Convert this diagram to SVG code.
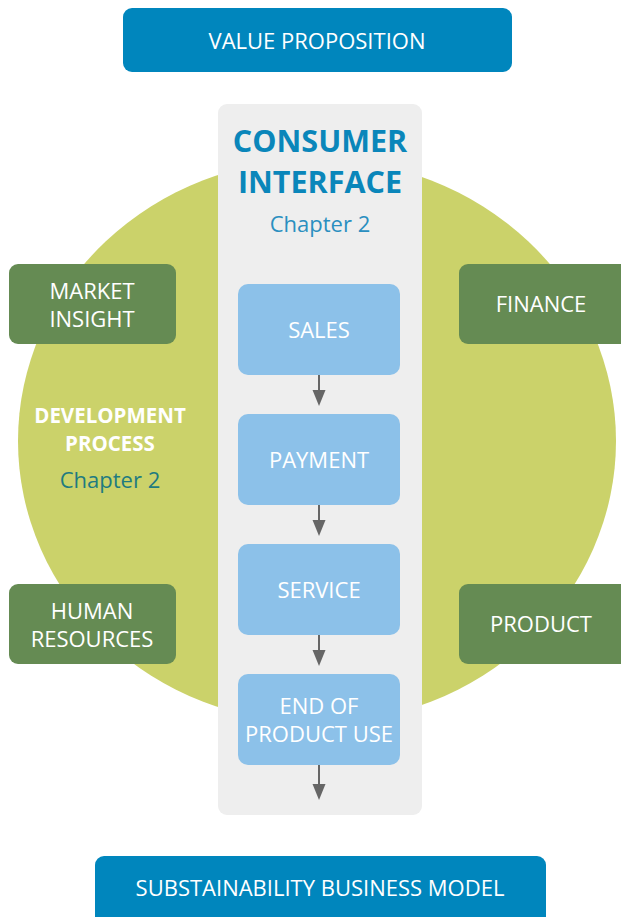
<svg xmlns="http://www.w3.org/2000/svg" width="621" height="917" viewBox="0 0 621 917">
<style>
text{font-family:"Open Sans","Noto Sans","Liberation Sans",sans-serif;text-anchor:middle}
.wt{fill:#ffffff;font-size:22px}
.blue{fill:#0086bd}
.green{fill:#658b53}
.lb{fill:#8cc1e9}
.conn{stroke:#666666;stroke-width:2;fill:none}
</style>
<ellipse cx="317" cy="441" rx="299" ry="282" fill="#cbd26a"/>
<g id="value-proposition">
<rect class="blue" x="123" y="8" width="389" height="64" rx="9"/>
<text class="wt" x="317" y="49">VALUE PROPOSITION</text>
</g>
<g id="consumer-interface">
<rect x="218" y="104" width="204" height="711" rx="9" fill="#eeeeee"/>
<text x="320" y="152" font-size="30.5" font-weight="bold" fill="#0a86ba">CONSUMER</text>
<text x="320" y="193" font-size="30.5" font-weight="bold" fill="#0a86ba">INTERFACE</text>
<text x="320" y="232" font-size="22" fill="#2a8fc0">Chapter 2</text>
</g>
<g id="development-process">
<text x="110" y="423" font-size="20.5" font-weight="bold" fill="#ffffff">DEVELOPMENT</text>
<text x="110" y="451" font-size="20.5" font-weight="bold" fill="#ffffff">PROCESS</text>
<text x="110" y="488" font-size="22" fill="#1f7b80">Chapter 2</text>
</g>
<g id="market-insight">
<rect class="green" x="9" y="264" width="167" height="80" rx="9"/>
<text class="wt" x="92" y="299">MARKET</text>
<text class="wt" x="92" y="327">INSIGHT</text>
</g>
<g id="finance">
<rect class="green" x="459" y="264" width="175" height="80" rx="9"/>
<text class="wt" x="541" y="312">FINANCE</text>
</g>
<g id="human-resources">
<rect class="green" x="9" y="584" width="167" height="80" rx="9"/>
<text class="wt" x="92" y="619">HUMAN</text>
<text class="wt" x="92" y="647">RESOURCES</text>
</g>
<g id="product">
<rect class="green" x="459" y="584" width="175" height="80" rx="9"/>
<text class="wt" x="541" y="632">PRODUCT</text>
</g>
<g id="sales">
<rect class="lb" x="238" y="284" width="162" height="91" rx="10"/>
<text class="wt" x="319" y="338">SALES</text>
</g>
<g id="payment">
<rect class="lb" x="238" y="414" width="162" height="91" rx="10"/>
<text class="wt" x="319" y="468">PAYMENT</text>
</g>
<g id="service">
<rect class="lb" x="238" y="544" width="162" height="91" rx="10"/>
<text class="wt" x="319" y="598">SERVICE</text>
</g>
<g id="end-of-product-use">
<rect class="lb" x="238" y="674" width="162" height="91" rx="10"/>
<text class="wt" x="319" y="714">END OF</text>
<text class="wt" x="319" y="742">PRODUCT USE</text>
</g>
<g id="sustainability-business-model">
<rect class="blue" x="95" y="856" width="451" height="80" rx="9"/>
<text class="wt" x="320" y="896" font-size="23">SUBSTAINABILITY BUSINESS MODEL</text>
</g>
<g id="connectors" fill="#666666">
<line class="conn" x1="319" y1="375" x2="319" y2="392"/>
<path d="M312.5,390 L325.5,390 L319,406 Z"/>
<line class="conn" x1="319" y1="505" x2="319" y2="522"/>
<path d="M312.5,520 L325.5,520 L319,536 Z"/>
<line class="conn" x1="319" y1="635" x2="319" y2="652"/>
<path d="M312.5,650 L325.5,650 L319,666 Z"/>
<line class="conn" x1="319" y1="765" x2="319" y2="786"/>
<path d="M312.5,784 L325.5,784 L319,800 Z"/>
</g>
</svg>
